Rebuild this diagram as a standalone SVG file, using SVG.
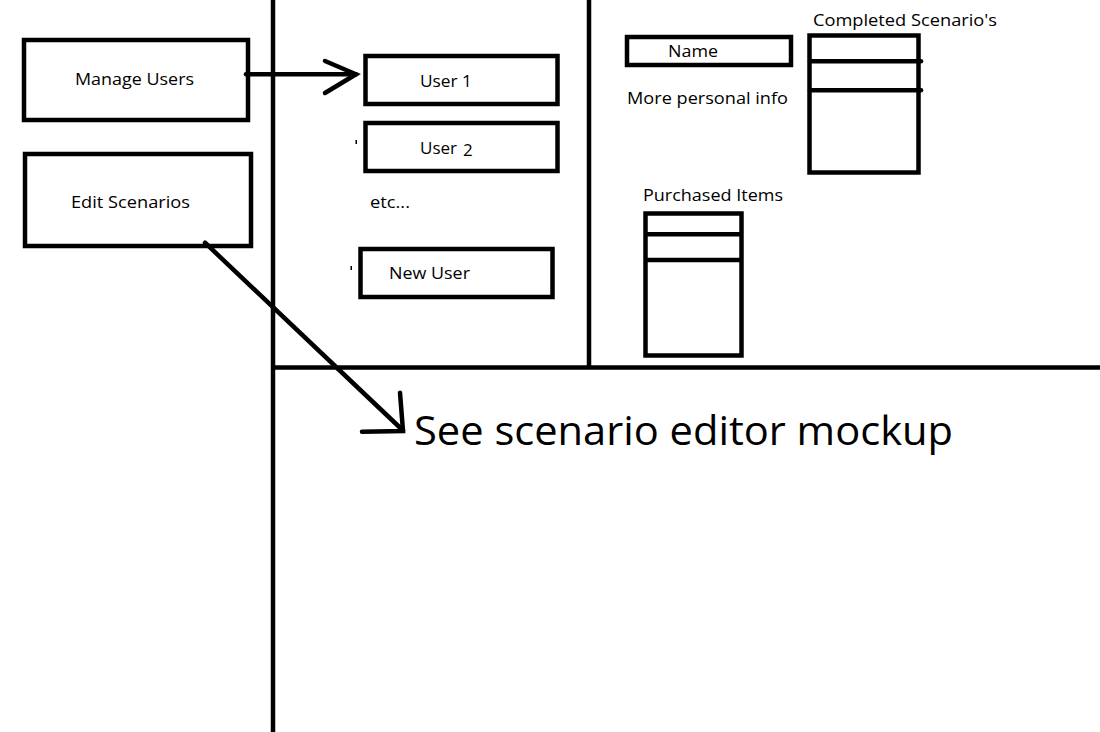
<svg xmlns="http://www.w3.org/2000/svg" width="1100" height="732" viewBox="0 0 1100 732">
  <style>
    .box { fill: #ffffff; stroke: #000000; stroke-width: 4.5; }
    .ln { fill: none; stroke: #000000; stroke-width: 4.5; stroke-linecap: round; }
    .rule { fill: none; stroke: #000000; stroke-width: 4.5; }
    .lbl { font-family: "Open Sans", "Liberation Sans", sans-serif; font-size: 17px; fill: #000000; }
    .big { font-family: "Open Sans", "Liberation Sans", sans-serif; font-size: 41px; fill: #000000; }
  </style>
  <rect width="1100" height="732" fill="#ffffff"/>

  <!-- panel dividers -->
  <g id="dividers">
    <line class="rule" x1="273" y1="0" x2="273" y2="732"/>
    <line class="rule" x1="589" y1="0" x2="589" y2="367"/>
    <line class="rule" x1="273" y1="367.5" x2="1100" y2="367.5"/>
  </g>

  <!-- left menu -->
  <g id="manage-users">
    <rect class="box" x="24" y="40" width="224" height="80"/>
    <text class="lbl" x="75" y="85" textLength="119" lengthAdjust="spacingAndGlyphs">Manage Users</text>
  </g>
  <g id="edit-scenarios">
    <rect class="box" x="25" y="154" width="226" height="92"/>
    <text class="lbl" x="71" y="208" textLength="119" lengthAdjust="spacingAndGlyphs">Edit Scenarios</text>
  </g>

  <!-- user list -->
  <g id="user-1">
    <rect class="box" x="365.5" y="56" width="192" height="48"/>
    <text class="lbl" x="420" y="87" textLength="52" lengthAdjust="spacingAndGlyphs">User 1</text>
  </g>
  <g id="user-2">
    <rect class="box" x="365.5" y="123" width="192" height="48"/>
    <text class="lbl" x="420" y="154"><tspan textLength="37" lengthAdjust="spacingAndGlyphs">User</tspan><tspan x="463" y="156">2</tspan></text>
    <rect x="355.5" y="140" width="1.5" height="4" fill="#000000"/>
  </g>
  <g id="etc">
    <text class="lbl" x="370" y="208" textLength="40" lengthAdjust="spacingAndGlyphs">etc...</text>
  </g>
  <g id="new-user">
    <rect class="box" x="360.5" y="249" width="192" height="48"/>
    <text class="lbl" x="389" y="279" textLength="81" lengthAdjust="spacingAndGlyphs">New User</text>
    <rect x="350.5" y="266" width="1.5" height="4" fill="#000000"/>
  </g>

  <!-- user detail -->
  <g id="name">
    <rect class="box" x="627" y="37" width="164" height="28"/>
    <text class="lbl" x="668" y="57" textLength="50" lengthAdjust="spacingAndGlyphs">Name</text>
  </g>
  <g id="personal-info">
    <text class="lbl" x="627" y="104" textLength="161" lengthAdjust="spacingAndGlyphs">More personal info</text>
  </g>
  <g id="completed-scenarios">
    <text class="lbl" x="813" y="26" textLength="184" lengthAdjust="spacingAndGlyphs">Completed Scenario's</text>
    <rect class="box" x="809.5" y="35.5" width="109" height="137"/>
    <line class="ln" x1="810" y1="61.3" x2="921" y2="61.3"/>
    <line class="ln" x1="810" y1="90.3" x2="921" y2="90.3"/>
  </g>
  <g id="purchased-items">
    <text class="lbl" x="643" y="201" textLength="140" lengthAdjust="spacingAndGlyphs">Purchased Items</text>
    <rect class="box" x="645.5" y="213.5" width="96" height="142"/>
    <line class="rule" x1="646" y1="234.3" x2="741" y2="234.3"/>
    <line class="rule" x1="646" y1="260" x2="741" y2="260"/>
  </g>

  <!-- scenario editor reference -->
  <g id="scenario-editor">
    <text class="big" x="414" y="445" textLength="539" lengthAdjust="spacingAndGlyphs">See scenario editor mockup</text>
  </g>

  <!-- connectors -->
  <g id="connectors">
    <line class="ln" x1="246" y1="74.3" x2="356" y2="74.3"/>
    <polyline class="ln" points="325,61 356,74.3 325,93"/>
    <line class="ln" x1="205" y1="242.7" x2="403" y2="430.5"/>
    <polyline class="ln" points="400,392.7 403,431 362,431.7"/>
  </g>
</svg>
